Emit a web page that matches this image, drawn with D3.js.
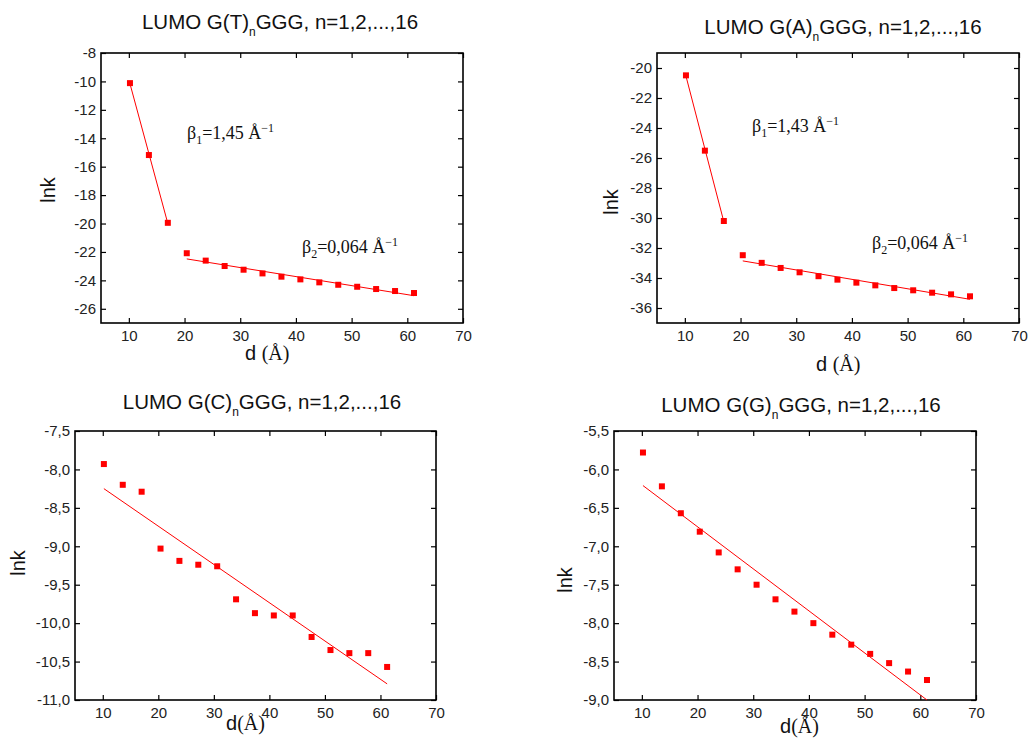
<!DOCTYPE html>
<html>
<head>
<meta charset="utf-8">
<script src="https://cdn.jsdelivr.net/npm/d3@7"></script>
<style>
  body { margin: 0; background: #fff; }
  svg { display: block; }
</style>
</head>
<body>
<svg id="chart" width="1030" height="740"></svg>
<script>
// d (Å) for n = 1..16
const dist = [10.2, 13.6, 17.0, 20.4, 23.8, 27.2, 30.6, 34.0, 37.4, 40.8, 44.2, 47.6, 51.0, 54.4, 57.8, 61.2];

// ln k
const lnkT = [-10.12, -15.18, -19.95, -22.09, -22.61, -22.99, -23.25, -23.51, -23.74, -23.93, -24.14, -24.31, -24.45, -24.61, -24.75, -24.89];
const lnkA = [-20.49, -25.51, -30.20, -32.48, -32.99, -33.33, -33.62, -33.88, -34.11, -34.31, -34.49, -34.67, -34.82, -34.98, -35.09, -35.22];
const lnkC = [-7.93, -8.20, -8.29, -9.03, -9.19, -9.24, -9.26, -9.69, -9.87, -9.90, -9.90, -10.18, -10.35, -10.39, -10.39, -10.57];
const lnkG = [-5.78, -6.22, -6.57, -6.81, -7.08, -7.30, -7.50, -7.69, -7.85, -8.00, -8.15, -8.28, -8.40, -8.52, -8.63, -8.74];

// linear fits, endpoints [d, lnk]
const fitT = [[[10.2, -10.16], [17.0, -20.0]], [[20.4, -22.49], [61.2, -25.08]]];
const fitA = [[[10.2, -20.54], [17.0, -30.25]], [[20.4, -32.86], [61.2, -35.42]]];
const fitC = [[[10.2, -8.25], [61.2, -10.79]]];
const fitG = [[[10.2, -6.21], [61.2, -9.0]]];

// axes
const xDomain = [5, 70];
const xTicks = [10, 20, 30, 40, 50, 60, 70];
const yTicksT = [-8, -10, -12, -14, -16, -18, -20, -22, -24, -26];
const yTicksA = [-20, -22, -24, -26, -28, -30, -32, -34, -36];
const yTicksC = [-7.5, -8.0, -8.5, -9.0, -9.5, -10.0, -10.5, -11.0];
const yTicksG = [-5.5, -6.0, -6.5, -7.0, -7.5, -8.0, -8.5, -9.0];

// labels
const titleBases = ["G(T)", "G(A)", "G(C)", "G(G)"];
const betaT = [["1", "=1,45 Å"], ["2", "=0,064 Å"]];
const betaA = [["1", "=1,43 Å"], ["2", "=0,064 Å"]];

// ─── layout ───
const SANS = "'Liberation Sans', Arial, sans-serif";
const SERIF = "'Liberation Serif', 'Times New Roman', serif";
const RED = "#ff0000";

const loc = d3.formatLocale({ decimal: ",", thousands: ".", grouping: [3], currency: ["", ""], minus: "-" });

const panels = [
  { base: titleBases[0], vals: lnkT, fits: fitT, yDomain: [-27, -8], yTicks: yTicksT, fmt: loc.format(".0f"),
    box: { l: 101, r: 463, t: 53, b: 323 }, title: [280, 29], ylab: [55, 190],
    xlab: { x: 245, y: 360, gap: " " }, notes: betaT, notePos: [[187, 139], [302, 253]] },
  { base: titleBases[1], vals: lnkA, fits: fitA, yDomain: [-37, -19], yTicks: yTicksA, fmt: loc.format(".0f"),
    box: { l: 657, r: 1019, t: 53, b: 323 }, title: [843, 34], ylab: [618, 202],
    xlab: { x: 816, y: 371, gap: " " }, notes: betaA, notePos: [[752, 132], [872, 249]] },
  { base: titleBases[2], vals: lnkC, fits: fitC, yDomain: [-11, -7.5], yTicks: yTicksC, fmt: loc.format(".1f"),
    box: { l: 75, r: 436, t: 431, b: 700 }, title: [262, 409], ylab: [25, 563],
    xlab: { x: 226, y: 730, gap: "" }, notes: [], notePos: [] },
  { base: titleBases[3], vals: lnkG, fits: fitG, yDomain: [-9, -5.5], yTicks: yTicksG, fmt: loc.format(".1f"),
    box: { l: 614, r: 976, t: 431, b: 700 }, title: [801, 412], ylab: [572, 580],
    xlab: { x: 780, y: 733, gap: "" }, notes: [], notePos: [] },
];

const svg = d3.select("#chart");
svg.append("rect").attr("width", 1030).attr("height", 740).attr("fill", "#fff");

function drawPanel(p) {
  const { l, r, t, b } = p.box;
  const x = d3.scaleLinear().domain(xDomain).range([l, r]);
  const y = d3.scaleLinear().domain(p.yDomain).range([b, t]);
  const g = svg.append("g");

  // axes, ticks pointing inward on all four sides
  const styleAxis = sel => {
    sel.select(".domain").remove();
    sel.selectAll(".tick line").attr("stroke", "#000").attr("stroke-width", 1.2);
    sel.selectAll("text").attr("fill", "#222").style("font-family", SANS).style("font-size", "15px");
  };
  g.append("g").attr("transform", `translate(0,${b})`)
    .call(d3.axisBottom(x).tickValues(xTicks).tickSize(-5).tickPadding(7).tickFormat(d3.format("d")))
    .call(styleAxis);
  g.append("g").attr("transform", `translate(0,${t})`)
    .call(d3.axisTop(x).tickValues(xTicks).tickSize(-5).tickFormat(""))
    .call(styleAxis);
  g.append("g").attr("transform", `translate(${l},0)`)
    .call(d3.axisLeft(y).tickValues(p.yTicks).tickSize(-5).tickPadding(5).tickFormat(p.fmt))
    .call(styleAxis);
  g.append("g").attr("transform", `translate(${r},0)`)
    .call(d3.axisRight(y).tickValues(p.yTicks).tickSize(-5).tickFormat(""))
    .call(styleAxis);

  g.append("rect")
    .attr("x", l).attr("y", t).attr("width", r - l).attr("height", b - t)
    .attr("fill", "none").attr("stroke", "#000").attr("stroke-width", 1.6);

  // fit lines
  const line = d3.line().x(d => x(d[0])).y(d => y(d[1]));
  g.selectAll(".fit").data(p.fits).join("path")
    .attr("d", line).attr("fill", "none").attr("stroke", RED).attr("stroke-width", 1);

  // data points
  const pts = dist.map((d, i) => [d, p.vals[i]]);
  const s = 6;
  g.selectAll(".pt").data(pts).join("rect")
    .attr("x", d => x(d[0]) - s / 2).attr("y", d => y(d[1]) - s / 2)
    .attr("width", s).attr("height", s).attr("fill", RED);

  // title with subscript n
  const title = g.append("text")
    .attr("x", p.title[0]).attr("y", p.title[1])
    .attr("text-anchor", "middle")
    .style("font-family", SANS).style("font-size", "20.5px").attr("fill", "#111");
  title.append("tspan").text("LUMO " + p.base);
  title.append("tspan").attr("dy", 7).style("font-size", "12px").text("n");
  title.append("tspan").attr("dy", -7).text("GGG, n=1,2,...,16");

  // y label
  g.append("text")
    .attr("transform", `translate(${p.ylab[0]},${p.ylab[1]}) rotate(-90)`)
    .attr("text-anchor", "middle")
    .style("font-family", SANS).style("font-size", "20px").attr("fill", "#111")
    .text("lnk");

  // x label
  const xl = g.append("text")
    .attr("x", p.xlab.x).attr("y", p.xlab.y)
    .style("font-size", "20px").attr("fill", "#111");
  xl.append("tspan").style("font-family", SANS).text("d" + p.xlab.gap);
  xl.append("tspan").style("font-family", SERIF).text("(Å)");

  // beta annotations
  p.notes.forEach((n, i) => {
    const tx = g.append("text")
      .attr("x", p.notePos[i][0]).attr("y", p.notePos[i][1])
      .style("font-family", SERIF).style("font-size", "18px").attr("fill", "#111");
    tx.append("tspan").text("β");
    tx.append("tspan").attr("dy", 5).style("font-size", "12px").text(n[0]);
    tx.append("tspan").attr("dy", -5).text(n[1]);
    tx.append("tspan").attr("dy", -7).style("font-size", "12px").text("−1");
  });
}

panels.forEach(drawPanel);
</script>
</body>
</html>
